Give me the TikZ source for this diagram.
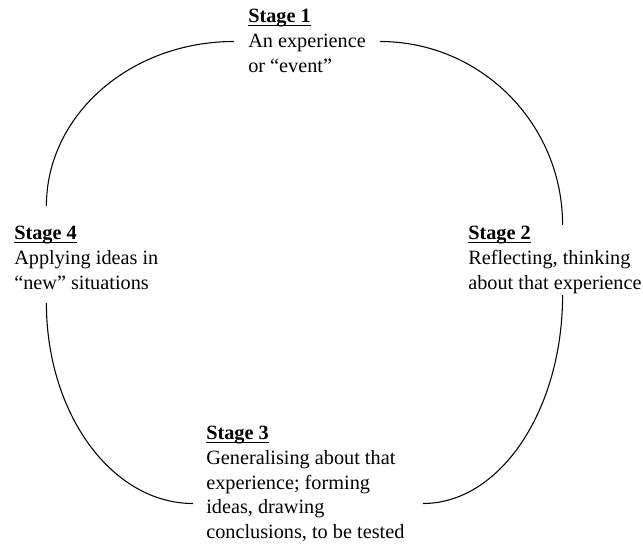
\documentclass[tikz,border=0pt]{standalone}
\usepackage{fontspec}
\setmainfont{Liberation Serif}
\newcommand\ulbf[1]{\setbox0\hbox{\textbf{#1}}\rlap{\rule[-2.4pt]{\wd0}{1.0pt}}\box0}
\begin{document}
\begin{tikzpicture}[x=0.75pt,y=-0.75pt,
  stagetext/.style={anchor=base west, inner sep=0pt, font=\fontsize{15.2}{18.4}\selectfont},
  arcline/.style={line width=0.8pt}]
\useasboundingbox (0,0) rectangle (643,552);
\fill[white] (0,0) rectangle (643,552);
\node[stagetext] (s1) at (248,23) {\begin{tabular}[t]{@{}l@{}}\ulbf{Stage 1}\\An experience\\or “event”\end{tabular}};
\node[stagetext] (s2) at (468,240) {\begin{tabular}[t]{@{}l@{}}\ulbf{Stage 2}\\Reflecting, thinking\\about that experience\end{tabular}};
\node[stagetext] (s3) at (206,440) {\begin{tabular}[t]{@{}l@{}}\ulbf{Stage 3}\\Generalising about that\\experience; forming\\ideas, drawing\\conclusions, to be tested\end{tabular}};
\node[stagetext] (s4) at (14,240) {\begin{tabular}[t]{@{}l@{}}\ulbf{Stage 4}\\Applying ideas in\\“new” situations\end{tabular}};
\coordinate (s1w) at (234,41.5);
\coordinate (s1e) at (380,41.5);
\coordinate (s2n) at (562.6,225);
\coordinate (s2s) at (562.6,295);
\coordinate (s3e) at (423,503.5);
\coordinate (s3w) at (193,503.5);
\coordinate (s4s) at (46.4,303);
\coordinate (s4n) at (46.4,206);
\draw[arcline] (s1w) .. controls +(-103.8,0) and +(0,-90.9) .. (s4n);
\draw[arcline] (s1e) .. controls +(100.9,0) and +(0,-101.3) .. (s2n);
\draw[arcline] (s2s) .. controls +(0,115.2) and +(77.1,0) .. (s3e);
\draw[arcline] (s4s) .. controls +(0,110.7) and +(-81,0) .. (s3w);
\end{tikzpicture}
\end{document}
